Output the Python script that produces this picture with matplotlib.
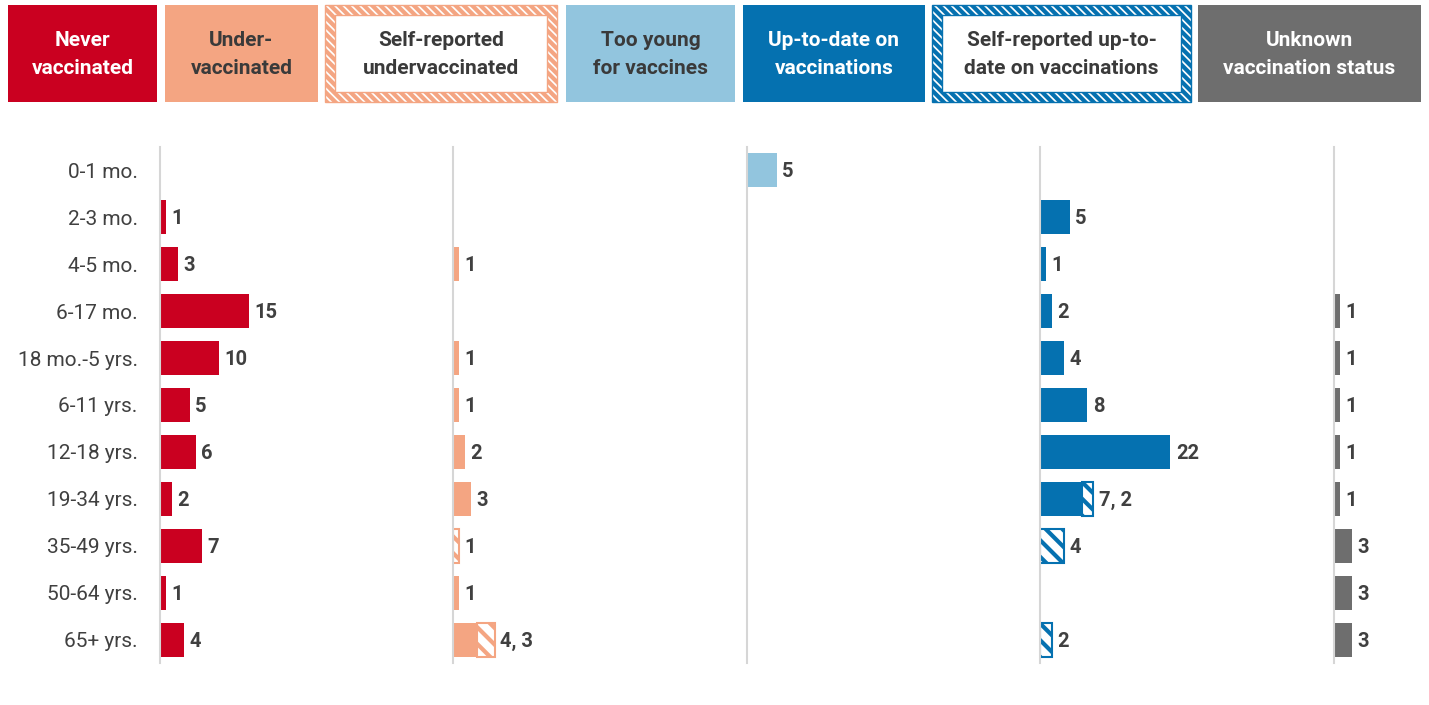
import numpy as np
import matplotlib.pyplot as plt
from matplotlib.patches import Rectangle

plt.rcParams['font.family'] = ['Roboto', 'DejaVu Sans']
plt.rcParams['hatch.linewidth'] = 3

# ---- data ----
age_groups = ['0-1 mo.', '2-3 mo.', '4-5 mo.', '6-17 mo.', '18 mo.-5 yrs.', '6-11 yrs.',
              '12-18 yrs.', '19-34 yrs.', '35-49 yrs.', '50-64 yrs.', '65+ yrs.']
never = [0, 1, 3, 15, 10, 5, 6, 2, 7, 1, 4]
under = [0, 0, 1, 0, 1, 1, 2, 3, 0, 1, 4]
under_self = [0, 0, 0, 0, 0, 0, 0, 0, 1, 0, 3]
too_young = [5, 0, 0, 0, 0, 0, 0, 0, 0, 0, 0]
uptodate = [0, 5, 1, 2, 4, 8, 22, 7, 0, 0, 0]
uptodate_self = [0, 0, 0, 0, 0, 0, 0, 2, 4, 0, 2]
unknown = [0, 0, 0, 1, 1, 1, 1, 1, 3, 3, 3]

header_labels = ['Never\nvaccinated', 'Under-\nvaccinated', 'Self-reported\nundervaccinated',
                 'Too young\nfor vaccines', 'Up-to-date on\nvaccinations',
                 'Self-reported up-to-\ndate on vaccinations', 'Unknown\nvaccination status']

red, salmon, lightblue, blue, gray = '#CA0020', '#F4A582', '#92C5DE', '#0571B0', '#6E6E6E'
txt = '#404040'

W, H = 1429, 705
fig = plt.figure(figsize=(W / 100, H / 100), dpi=100)

# -------------------- header boxes --------------------
hax = fig.add_axes([0, 0, 1, 1])
hax.set_xlim(0, W)
hax.set_ylim(H, 0)
hax.axis('off')

box_x = [(8, 157), (165, 318), (325, 557), (566, 735), (743, 925), (932, 1191), (1198, 1421)]
box_style = [(red, False, 'white'), (salmon, False, '#3a3a3a'), (salmon, True, '#3a3a3a'),
             (lightblue, False, '#3a3a3a'), (blue, False, 'white'), (blue, True, '#3a3a3a'),
             (gray, False, 'white')]
y0, y1 = 5, 102
for lab, (xa, xb), (col, hatched, tcol) in zip(header_labels, box_x, box_style):
    if hatched:
        hax.add_patch(Rectangle((xa, y0), xb - xa, y1 - y0, facecolor='white', edgecolor=col,
                                hatch='\\\\\\\\', linewidth=1))
        hax.add_patch(Rectangle((xa + 10, y0 + 10), xb - xa - 20, y1 - y0 - 20,
                                facecolor='white', edgecolor=col, linewidth=1))
    else:
        hax.add_patch(Rectangle((xa, y0), xb - xa, y1 - y0, facecolor=col, edgecolor='none'))
    hax.text((xa + xb) / 2, (y0 + y1) / 2 + 1, lab, ha='center', va='center', color=tcol,
             fontsize=15, fontweight='bold', linespacing=1.6)

# -------------------- bar panels --------------------
panels = [(never, None, red), (under, under_self, salmon), (too_young, None, lightblue),
          (uptodate, uptodate_self, blue), (unknown, None, gray)]
starts = [160, 453, 747, 1040, 1334]
px_per_unit = 5.93
top, bottom = 147, 663
y = np.arange(len(age_groups))

for i, ((solid, selfrep, color), x0) in enumerate(zip(panels, starts)):
    x1 = starts[i + 1] if i + 1 < len(starts) else W
    ax = fig.add_axes([x0 / W, 1 - bottom / H, (x1 - x0) / W, (bottom - top) / H])
    ax.set_xlim(0, (x1 - x0) / px_per_unit)
    ax.set_ylim(len(age_groups) - 0.51, -0.49)
    ax.patch.set_alpha(0)

    solid = np.array(solid)
    ax.barh(y, solid, height=0.72, color=color)
    totals = solid.copy()
    if selfrep is not None:
        selfrep = np.array(selfrep)
        idx = np.nonzero(selfrep)[0]
        ax.barh(y[idx], selfrep[idx], left=solid[idx], height=0.72, facecolor='white',
                edgecolor=color, hatch='\\\\', linewidth=1.5)
        totals = solid + selfrep

    for k in range(len(age_groups)):
        if totals[k] == 0:
            continue
        if selfrep is not None and selfrep[k] > 0 and solid[k] > 0:
            s = f'{solid[k]}, {selfrep[k]}'
        else:
            s = str(totals[k])
        ax.annotate(s, (totals[k], y[k]), xytext=(4, -1), textcoords='offset points',
                    ha='left', va='center', fontsize=14.5, fontweight='bold', color=txt)

    for side in ['top', 'right', 'bottom']:
        ax.spines[side].set_visible(False)
    ax.spines['left'].set_color('#D6D6D6')
    ax.spines['left'].set_linewidth(1.5)
    ax.set_xticks([])
    if i == 0:
        ax.set_yticks(y)
        ax.set_yticklabels(age_groups, fontsize=15, color=txt)
        ax.tick_params(axis='y', length=0, pad=16)
    else:
        ax.set_yticks([])

fig.savefig('out.png', dpi=100)
